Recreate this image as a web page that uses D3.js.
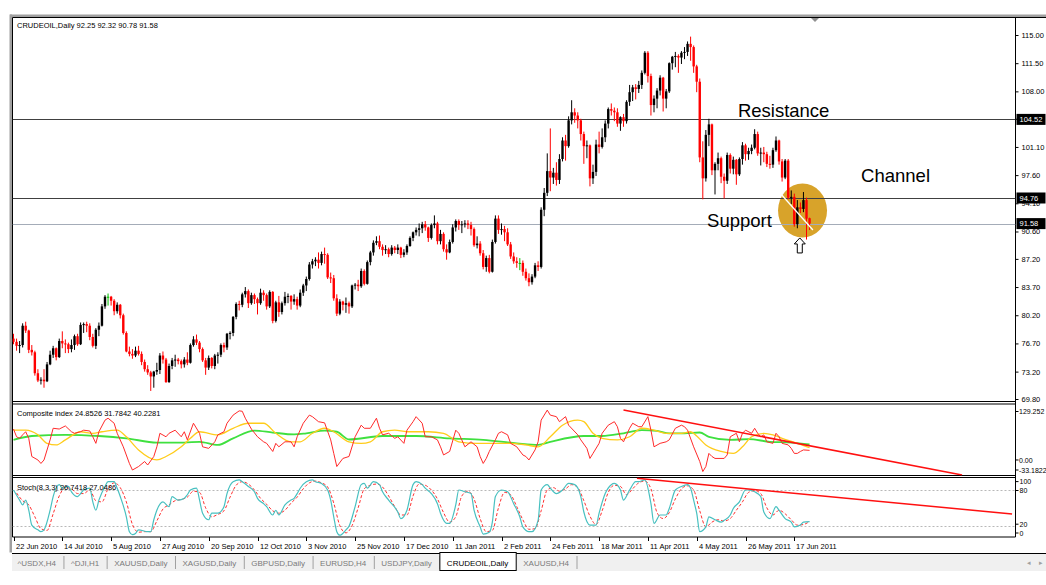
<!DOCTYPE html>
<html>
<head>
<meta charset="utf-8">
<script src="https://cdn.jsdelivr.net/npm/d3@7"></script>
<style>
  body { margin: 0; background: #fff; }
  svg { display: block; font-family: "Liberation Sans", Arial, sans-serif; }
</style>
</head>
<body>
<svg id="chart" width="1046" height="585"></svg>
<script>
// ---- data ----
const symbolTitle = 'CRUDEOIL,Daily  92.25 92.32 90.78 91.58';

// daily bars [open, high, low, close], bar 0 = 22 Jun 2010
const candles = [
  // Jun / Jul 2010
  [77.3,77.9,76.6,76.9],[76.9,77.3,75.8,76.4],[76.4,77.0,75.5,76.5],[76.5,79.2,76.2,78.9],[78.9,79.4,78.0,78.3],
  [78.3,78.4,75.5,75.9],[75.9,76.5,75.2,75.6],[75.6,75.8,72.7,73.0],[73.0,73.5,71.9,72.1],[72.1,72.5,71.6,72.2],
  [72.2,73.5,71.2,72.0],[72.0,74.4,71.9,74.1],[74.1,75.8,74.0,75.3],[75.3,76.4,74.9,76.1],[76.1,76.2,74.6,75.0],
  [75.0,77.3,74.9,77.0],[77.0,78.2,76.1,76.7],[76.7,77.2,75.5,76.6],[76.6,76.8,75.5,76.0],[76.0,77.2,75.6,76.5],
  [76.5,77.8,75.9,77.6],[77.6,77.9,76.4,76.6],[76.6,79.3,76.5,79.0],[79.0,79.3,78.0,79.1],[79.1,79.4,78.1,78.9],
  [78.9,79.2,77.1,77.5],[77.5,77.9,76.2,76.4],[76.4,78.6,76.0,78.4],[78.4,79.3,77.6,78.9],
  // Aug 2010
  [78.9,81.6,78.8,81.3],[81.3,82.7,81.0,82.5],[82.5,82.9,81.4,82.5],[82.5,82.6,81.4,82.0],[82.0,82.2,80.2,80.7],
  [80.7,81.8,80.4,81.5],[81.5,81.6,79.8,80.2],[80.2,80.4,77.8,78.0],[78.0,78.2,75.6,75.7],[75.7,76.3,75.1,75.4],
  [75.4,76.0,74.8,75.2],[75.2,76.3,75.0,75.8],[75.8,76.4,75.2,75.4],[75.4,75.7,74.0,74.4],[74.4,74.7,73.2,73.5],
  [73.5,74.0,72.8,73.1],[73.1,73.3,70.8,72.6],[72.6,73.3,71.2,73.2],[73.2,74.3,72.8,73.4],[73.4,75.5,72.9,75.2],
  [75.2,75.7,74.2,74.7],[74.7,74.9,71.8,71.9],
  // Sep 2010
  [71.9,74.2,71.8,73.9],[73.9,74.9,73.5,74.6],[74.6,75.3,73.8,74.7],[74.7,74.9,74.1,74.5],[74.5,74.7,73.6,74.1],
  [74.1,75.0,73.7,74.7],[74.7,75.6,74.0,74.3],[74.3,76.7,74.2,76.5],[76.5,77.6,76.3,77.2],[77.2,77.8,76.5,76.8],
  [76.8,77.0,75.6,76.0],[76.0,76.2,74.4,74.6],[74.6,74.9,72.8,73.7],[73.7,75.2,73.4,74.9],[74.9,75.0,73.6,73.9],
  [73.9,75.4,73.5,75.2],[75.2,75.6,74.2,75.3],[75.3,76.7,75.0,76.5],[76.5,76.8,75.6,76.2],[76.2,78.0,75.9,77.9],
  [77.9,78.2,77.2,78.0],[78.0,80.1,77.6,80.0],
  // Oct 2010
  [80.0,81.8,79.7,81.6],[81.6,82.0,80.8,81.5],[81.5,83.0,81.2,82.8],[82.8,83.7,82.4,83.2],[83.2,83.4,81.1,81.7],
  [81.7,83.0,81.5,82.7],[82.7,82.9,81.6,82.2],[82.2,82.4,80.3,81.7],[81.7,83.5,81.5,83.0],[83.0,83.3,82.0,82.7],
  [82.7,82.9,80.9,81.3],[81.3,83.3,81.1,83.1],[83.1,83.2,79.2,79.5],[79.5,82.0,79.3,81.8],[81.8,82.6,80.0,80.6],
  [80.6,81.9,80.3,81.7],[81.7,83.1,81.4,82.5],[82.5,82.9,81.7,82.6],[82.6,82.7,80.9,81.9],[81.9,82.8,81.5,82.2],
  [82.2,82.5,80.9,81.4],
  // Nov 2010
  [81.4,83.4,81.2,83.0],[83.0,84.1,82.6,83.9],[83.9,85.0,83.2,84.7],[84.7,86.8,84.5,86.5],[86.5,87.2,86.0,86.9],
  [86.9,87.4,86.3,87.1],[87.1,88.0,86.0,86.7],[86.7,88.1,86.4,87.8],[87.8,88.6,86.6,87.7],[87.7,87.9,84.7,84.9],
  [84.9,85.5,84.2,84.8],[84.8,85.2,82.0,82.3],[82.3,82.8,80.1,80.4],[80.4,82.2,80.2,81.9],[81.9,82.0,80.8,81.5],
  [81.5,82.4,80.5,81.7],[81.7,81.9,80.4,81.3],[81.3,84.0,81.1,83.9],[83.9,84.2,83.4,84.0],[84.0,84.6,83.2,83.8],
  [83.8,86.0,83.6,85.7],[85.7,85.9,83.9,84.1],
  // Dec 2010
  [84.1,87.0,84.0,86.8],[86.8,88.2,86.4,88.0],[88.0,89.5,87.6,89.2],[89.2,90.0,88.9,89.4],[89.4,90.1,88.4,88.7],
  [88.7,89.0,87.6,88.3],[88.3,88.9,87.8,88.4],[88.4,88.6,87.4,87.8],[87.8,88.9,87.6,88.6],[88.6,88.8,87.9,88.3],
  [88.3,89.0,87.8,88.6],[88.6,88.7,87.3,87.7],[87.7,88.4,87.4,88.0],[88.0,89.0,87.7,88.8],[88.8,90.0,88.7,89.8],
  [89.8,90.6,89.4,90.5],[90.5,91.1,90.1,90.8],[90.8,91.6,90.0,91.0],[91.0,91.8,90.4,91.5],[91.5,91.9,90.7,91.1],
  [91.1,91.2,89.3,89.8],[89.8,91.6,89.6,91.4],
  // Jan 2011
  [91.4,92.6,91.0,91.6],[91.6,91.8,89.0,89.4],[89.4,90.8,89.0,90.3],[90.3,90.5,88.1,88.4],[88.4,89.0,87.1,88.0],
  [88.0,89.6,87.9,89.3],[89.3,91.5,89.1,91.1],[91.1,92.1,90.6,91.9],[91.9,92.1,90.8,91.4],[91.4,91.9,90.4,91.5],
  [91.5,92.0,91.1,91.6],[91.6,92.0,90.9,91.4],[91.4,91.8,90.1,90.9],[90.9,91.1,88.7,88.9],[88.9,90.0,88.5,89.1],
  [89.1,89.4,87.6,87.9],[87.9,88.3,85.9,86.2],[86.2,87.6,85.6,87.3],[87.3,87.7,85.4,85.6],[85.6,89.6,85.5,89.3],
  [89.3,92.6,89.1,92.2],
  // Feb 2011
  [92.2,92.6,90.3,90.8],[90.8,91.6,90.2,90.9],[90.9,91.3,89.4,90.5],[90.5,91.0,88.8,89.0],[89.0,89.3,87.2,87.5],
  [87.5,88.0,86.6,86.9],[86.9,87.4,86.1,86.7],[86.7,87.3,85.8,86.7],[86.7,87.0,85.1,85.6],[85.6,86.0,84.5,84.8],
  [84.8,85.4,83.8,84.3],[84.3,85.3,84.0,85.0],[85.0,86.7,84.8,86.4],[86.4,86.9,85.7,86.2],[86.2,93.6,86.0,93.3],
  [93.3,96.0,92.5,95.4],[95.4,100.3,95.0,98.1],[98.1,103.4,95.6,97.3],[97.3,98.5,96.5,97.9],[97.9,99.2,96.3,97.0],
  // Mar 2011
  [97.0,100.2,96.5,99.6],[99.6,102.3,99.3,101.9],[101.9,102.6,99.4,101.2],[101.2,104.9,101.0,104.4],[104.4,106.9,103.9,105.4],
  [105.4,105.9,104.1,105.0],[105.0,105.4,103.4,104.4],[104.4,104.6,101.9,102.7],[102.7,103.0,99.0,101.2],[101.2,101.9,99.7,101.3],
  [101.3,101.4,96.2,97.2],[97.2,98.9,96.5,98.0],[98.0,102.0,97.5,101.4],[101.4,103.0,100.3,101.1],[101.1,103.4,100.9,102.3],
  [102.3,104.4,101.7,104.0],[104.0,106.0,103.4,105.8],[105.8,106.5,105.0,105.6],[105.6,106.0,104.3,105.4],[105.4,105.9,103.6,104.0],
  [104.0,104.9,103.1,104.8],[104.8,105.2,103.6,104.3],[104.3,106.9,104.0,106.7],
  // Apr 2011
  [106.7,108.8,106.2,107.9],[107.9,108.8,106.8,108.5],[108.5,108.9,107.0,108.3],[108.3,109.3,107.8,108.8],[108.8,110.6,108.3,110.3],
  [110.3,113.0,110.1,112.8],[112.8,113.0,109.1,109.9],[109.9,110.2,105.0,106.3],[106.3,107.5,105.4,107.1],[107.1,108.4,105.9,108.1],
  [108.1,110.0,107.5,109.7],[109.7,109.8,105.5,107.1],[107.1,108.3,105.9,108.0],[108.0,111.6,107.8,111.5],[111.5,112.4,110.7,112.3],
  [112.3,112.9,111.0,112.4],[112.4,112.6,110.3,112.2],[112.2,113.0,111.4,112.8],[112.8,113.5,112.0,112.9],[112.9,114.2,112.4,113.9],
  // May 2011
  [113.9,114.8,111.8,113.5],[113.5,113.7,110.3,111.1],[111.1,111.3,107.9,109.2],[109.2,109.6,99.2,99.8],[99.8,101.8,94.6,97.2],
  [97.2,103.2,96.8,102.6],[102.6,104.6,101.2,103.9],[103.9,104.0,97.6,98.2],[98.2,99.2,95.2,99.0],[99.0,100.4,98.2,99.7],
  [99.7,99.9,96.6,97.4],[97.4,97.8,94.7,96.9],[96.9,100.4,96.5,100.1],[100.1,100.3,97.8,98.4],[98.4,99.9,97.7,99.5],
  [99.5,99.6,96.4,97.7],[97.7,99.8,97.5,99.6],[99.6,101.7,98.9,101.3],[101.3,101.5,99.4,100.2],[100.2,101.0,99.5,100.6],
  [100.6,101.4,100.2,101.0],[101.0,103.3,100.8,102.7],
  // Jun 2011
  [102.7,103.0,100.0,100.3],[100.3,101.0,98.8,100.4],[100.4,101.1,99.2,100.2],[100.2,100.5,98.6,99.0],[99.0,100.0,98.4,98.9],
  [98.9,101.0,98.5,100.7],[100.7,102.4,100.5,101.9],[101.9,102.0,98.9,99.3],[99.3,99.6,96.8,97.3],[97.3,99.6,97.1,99.4],
  [99.4,99.6,94.6,94.8],[94.8,95.7,94.0,94.9],[94.9,95.3,91.2,91.5],[91.5,94.5,91.0,93.6],[93.6,94.2,92.9,93.4],
  [93.4,95.5,93.0,94.5],[94.5,94.8,89.6,92.2],[92.25,92.32,90.78,91.58]
];

const priceTicks = [115.00, 111.50, 108.00, 104.60, 101.10, 97.60, 94.10, 90.60, 87.20, 83.70, 80.20, 76.70, 73.20, 69.80];
const levelPrices = [104.52, 94.76];   // resistance / support lines
const bidPrice = 91.58;

const dateTickBars = [0, 16, 32, 48, 64, 80, 96, 112, 128, 144, 160, 176, 192, 208, 224, 240, 256];
const dateTickLabels = ['22 Jun 2010', '14 Jul 2010', '5 Aug 2010', '27 Aug 2010', '20 Sep 2010', '12 Oct 2010',
  '3 Nov 2010', '25 Nov 2010', '17 Dec 2010', '11 Jan 2011', '2 Feb 2011', '24 Feb 2011', '18 Mar 2011',
  '11 Apr 2011', '4 May 2011', '26 May 2011', '17 Jun 2011'];

// composite index panel: [bar, value]
const compositeLine = [[0,80],[1,60],[2,56],[3,65],[4,73],[5,56],[6,9],[8,0],[9,-9],[10,0],[12,52],[13,82],[15,80],[17,88],
  [19,73],[20,69],[22,73],[23,77],[25,75],[26,60],[27,43],[28,73],[30,103],[31,108],[33,95],[34,69],[36,34],[38,-9],[39,-26],
  [41,-17],[43,-4],[44,-13],[46,9],[47,34],[48,69],[50,60],[51,69],[53,77],[55,60],[56,73],[57,52],[59,95],[61,69],[62,34],
  [64,30],[66,47],[67,65],[69,73],[70,95],[72,116],[74,127],[75,126],[76,108],[78,80],[80,60],[82,47],[83,43],[85,22],[86,43],
  [87,34],[89,47],[91,47],[92,34],[93,60],[95,95],[97,116],[98,112],[100,99],[102,96],[104,52],[105,17],[106,-17],[108,4],
  [110,9],[112,60],[114,90],[115,82],[117,82],[119,108],[120,82],[121,65],[123,69],[125,56],[126,60],[128,43],[129,77],[131,99],
  [132,112],[134,95],[135,60],[137,60],[139,52],[140,34],[141,13],[143,22],[145,77],[146,69],[148,34],[150,47],[152,34],[153,9],
  [154,-9],[155,4],[156,22],[158,52],[159,69],[160,73],[162,65],[163,43],[165,34],[167,13],[168,9],[169,0],[171,26],[172,47],
  [173,103],[175,129],[176,116],[178,112],[179,99],[181,112],[182,90],[185,65],[186,52],[188,30],[189,4],[190,17],[192,43],
  [193,69],[195,90],[197,99],[198,86],[199,56],[200,47],[202,82],[203,95],[205,86],[206,86],[208,112],[209,77],[210,34],[212,43],
  [214,47],[215,52],[217,82],[219,90],[220,86],[221,77],[223,34],[225,-4],[226,-30],[227,-17],[228,17],[229,9],[230,4],[233,4],
  [234,13],[235,60],[237,69],[238,47],[239,69],[240,77],[242,69],[243,82],[244,69],[245,60],[246,65],[247,47],[249,43],[250,69],
  [251,60],[252,43],[254,39],[255,30],[256,17],[257,17],[258,22],[259,26],[261,24.85]];
const fastLine = [[0,77],[4,77],[8,65],[11,43],[14,39],[17,52],[22,73],[26,69],[29,73],[34,77],[37,60],[41,26],[47,0],[50,9],
  [55,34],[58,56],[61,73],[67,65],[72,82],[77,95],[82,95],[86,69],[91,47],[94,47],[98,69],[102,82],[105,73],[110,47],[114,43],
  [117,47],[121,73],[125,77],[129,73],[132,73],[136,73],[141,69],[146,47],[152,43],[157,43],[163,43],[168,39],[172,34],[176,60],
  [180,90],[185,103],[187,99],[190,69],[193,56],[198,52],[202,60],[206,82],[210,77],[214,69],[219,69],[222,73],[224,62],[227,39],
  [232,22],[236,17],[239,34],[242,60],[246,69],[249,65],[252,56],[257,43],[261,31.78]];
const slowLine = [[0,52],[6,62],[17,65],[28,62],[37,56],[47,45],[56,45],[61,47],[67,39],[72,56],[79,76],[85,71],[92,66],[96,69],
  [102,76],[106,73],[110,53],[121,62],[132,62],[143,56],[154,52],[165,43],[172,39],[176,47],[187,62],[193,62],[200,69],[206,77],
  [211,75],[215,69],[220,69],[225,71],[228,60],[235,52],[241,54],[248,47],[255,45],[261,40.23]];

// stochastic panel: [bar, value]
const stochMain = [[0,80],[2,63],[3,55],[4,63],[5,46],[6,21],[8,13],[9,10],[10,13],[12,46],[13,69],[15,89],[16,83],[18,86],
  [19,77],[21,69],[22,74],[23,80],[25,83],[26,60],[27,46],[28,63],[30,86],[31,94],[33,94],[34,83],[35,69],[37,35],[38,10],[39,5],
  [40,7],[41,13],[44,10],[45,10],[46,30],[47,46],[49,60],[51,52],[52,69],[54,63],[56,66],[57,72],[58,80],[60,83],[61,63],[62,41],
  [64,30],[65,41],[67,41],[69,52],[70,74],[72,94],[74,97],[75,94],[77,86],[79,77],[80,66],[82,57],[83,52],[85,38],[86,46],[87,38],
  [89,55],[91,63],[92,66],[93,74],[94,83],[96,94],[98,97],[99,94],[101,91],[103,80],[104,63],[105,35],[106,10],[107,4],[109,13],
  [110,19],[112,52],[114,89],[115,91],[116,83],[118,94],[120,89],[121,77],[123,63],[126,43],[127,32],[129,46],[131,89],[132,94],
  [134,89],[135,83],[137,74],[139,57],[140,41],[142,24],[143,24],[145,55],[146,80],[148,77],[150,74],[151,46],[153,18],[154,6],
  [156,9],[157,26],[158,69],[160,80],[162,77],[164,57],[166,35],[167,18],[169,10],[170,10],[172,29],[173,80],[175,89],[176,83],
  [178,74],[180,80],[182,91],[184,89],[186,69],[187,43],[189,21],[191,21],[192,41],[194,74],[196,89],[197,91],[199,80],[200,63],
  [202,80],[204,94],[205,94],[207,97],[209,57],[210,24],[212,38],[214,38],[215,49],[217,80],[219,86],[221,89],[222,83],[223,63],
  [224,41],[225,10],[227,18],[228,35],[230,30],[232,26],[233,29],[235,38],[236,49],[238,60],[240,80],[241,80],[243,77],[245,69],
  [246,43],[248,32],[250,52],[251,46],[253,32],[255,26],[256,18],[258,21],[259,26],[261,26.74]];
const stochSignal = [[1,75],[3,62],[5,55],[7,35],[9,15],[11,12],[13,40],[15,70],[17,84],[19,82],[21,74],[23,74],[25,80],[27,62],
  [29,60],[31,82],[33,92],[35,84],[37,60],[39,22],[41,9],[43,10],[45,10],[47,28],[49,48],[51,55],[53,62],[55,64],[57,68],[59,78],
  [61,76],[63,50],[65,35],[67,39],[69,45],[71,68],[73,88],[75,94],[77,90],[79,80],[81,66],[83,56],[85,45],[87,41],[89,46],[91,58],
  [93,68],[95,82],[97,92],[99,95],[101,92],[103,85],[105,58],[107,20],[109,8],[111,20],[113,50],[115,82],[117,88],[119,90],
  [121,85],[123,70],[125,52],[127,38],[129,38],[131,70],[133,90],[135,88],[137,80],[139,65],[141,42],[143,26],[145,35],[147,70],
  [149,78],[151,65],[153,32],[155,10],[157,12],[159,50],[161,76],[163,72],[165,52],[167,30],[169,14],[171,15],[173,45],[175,80],
  [177,84],[179,78],[181,82],[183,89],[185,84],[187,62],[189,36],[191,22],[193,45],[195,76],[197,88],[199,86],[201,72],[203,82],
  [205,92],[207,95],[209,82],[211,42],[213,32],[215,42],[217,65],[219,82],[221,87],[223,80],[225,45],[227,18],[229,26],[231,30],
  [233,28],[235,32],[237,46],[239,60],[241,76],[243,79],[245,74],[247,50],[249,38],[251,46],[253,40],[255,30],[257,21],[259,22],
  [261,27.05]];

// hand-drawn trend lines on the indicators: [bar, value] end points
const compTrend = [[200, 129], [311, -38.8]];
const stochTrend = [[204.4, 99.6], [327.4, 39.7]];

const tabNames = ['^USDX,H4', '^DJI,H1', 'XAUUSD,Daily', 'XAGUSD,Daily', 'GBPUSD,Daily', 'EURUSD,H4', 'USDJPY,Daily', 'CRUDEOIL,Daily', 'XAUUSD,H4'];
const activeTab = 'CRUDEOIL,Daily';

// ---- layout ----
const svg = d3.select('#chart');
const left = 12.5, right = 1015.5;
const mainTop = 17.5, mainBottom = 401.5;
const compTop = 404, compBottom = 475.5;
const stochTop = 477.5, stochBottom = 537;
const small = '7.5px';

const x = d3.scaleLinear().domain([0, 100]).range([13.5, 13.5 + 305]);
const yPrice = d3.scaleLinear().domain([69.8, 115]).range([399, 35]);
const yComp = d3.scaleLinear().domain([-33.1822, 129.252]).range([472.8, 410]);
const yStoch = d3.scaleLinear().domain([0, 100]).range([537.6, 478.1]);

const defs = svg.append('defs');
[['clipMain', mainTop, mainBottom], ['clipComp', compTop, compBottom], ['clipStoch', stochTop, stochBottom]].forEach(c => {
  defs.append('clipPath').attr('id', c[0])
  .append('rect').attr('x', left).attr('y', c[1]).attr('width', right - left).attr('height', c[2] - c[1]);
});

// window frame
svg.append('rect').attr('x', 10).attr('y', 14.5).attr('width', 1036).attr('height', 2.5).attr('fill', '#a0a0a0');
svg.append('rect').attr('x', 9.5).attr('y', 14.5).attr('width', 2.5).attr('height', 538).attr('fill', '#a0a0a0');

// panel borders
svg.append('line').attr('x1', left).attr('x2', 1046).attr('y1', mainTop).attr('y2', mainTop).attr('stroke', '#000');
svg.append('line').attr('x1', left).attr('x2', left).attr('y1', mainTop).attr('y2', stochBottom).attr('stroke', '#000');
[mainBottom, compTop, compBottom, stochTop, stochBottom].forEach(yy => {
  svg.append('line').attr('x1', left).attr('x2', right).attr('y1', yy).attr('y2', yy).attr('stroke', '#000');
});
svg.append('line').attr('x1', right).attr('x2', right).attr('y1', mainTop).attr('y2', stochBottom).attr('stroke', '#000');

// chart shift marker
svg.append('path').attr('d', 'M811,18 L819,18 L815,22 Z').attr('fill', '#909090');

const gMain = svg.append('g').attr('clip-path', 'url(#clipMain)');

// highlighted zone behind the last bars
gMain.append('ellipse')
.attr('cx', x(258.7)).attr('cy', yPrice(93.2))
.attr('rx', 24.5).attr('ry', 27)
.attr('fill', '#d8a32a');

// level lines
levelPrices.forEach(p => {
  gMain.append('line').attr('x1', left).attr('x2', right)
  .attr('y1', Math.round(yPrice(p)) + 0.5).attr('y2', Math.round(yPrice(p)) + 0.5)
  .attr('stroke', '#404040');
});
gMain.append('line').attr('x1', left).attr('x2', right)
.attr('y1', Math.round(yPrice(bidPrice)) + 0.5).attr('y2', Math.round(yPrice(bidPrice)) + 0.5)
.attr('stroke', '#a4acb8');

// candles
const bars = candles.map((c, i) => ({i: i, o: c[0], h: c[1], l: c[2], c: c[3]}));
const barColor = d => d.c > d.o ? '#000' : (d.c < d.o ? '#ff0000' : '#00c000');

gMain.selectAll('line.wick')
.data(bars)
.enter()
.append('line')
.attr('x1', d => x(d.i)).attr('x2', d => x(d.i))
.attr('y1', d => yPrice(d.h)).attr('y2', d => yPrice(d.l))
.attr('stroke', barColor)
.attr('stroke-width', 1);

gMain.selectAll('rect.body')
.data(bars)
.enter()
.append('rect')
.attr('x', d => x(d.i) - 1.2)
.attr('width', 2.4)
.attr('y', d => yPrice(Math.max(d.o, d.c)))
.attr('height', d => Math.max(1, Math.abs(yPrice(d.o) - yPrice(d.c))))
.attr('fill', barColor);

// white trend line inside the circle
gMain.append('line')
.attr('x1', x(251.9)).attr('y1', yPrice(95.13))
.attr('x2', x(262.1)).attr('y2', yPrice(90.79))
.attr('stroke', '#fff').attr('stroke-width', 1.3);

// up arrow under the low
const ax = x(257.8), ay = yPrice(89.8);
gMain.append('path')
.attr('d', `M${ax},${ay} L${ax + 5.5},${ay + 6} L${ax + 2.5},${ay + 6} L${ax + 2.5},${ay + 15} L${ax - 2.5},${ay + 15} L${ax - 2.5},${ay + 6} L${ax - 5.5},${ay + 6} Z`)
.attr('fill', '#fff').attr('stroke', '#000').attr('stroke-width', 1);

// annotation texts
const notes = [
  {text: 'Resistance', bar: 237.5, price: 104.52, dy: -2},
  {text: 'Channel', bar: 277.9, price: 96.78, dy: 0},
  {text: 'Support', bar: 227.4, price: 91.15, dy: 0}
];
notes.forEach(n => {
  svg.append('text')
  .attr('x', x(n.bar)).attr('y', yPrice(n.price) + n.dy)
  .style('font-size', '18.5px')
  .style('fill', '#000')
  .text(n.text);
});

// header
svg.append('text').attr('x', 17).attr('y', 28).style('font-size', small).style('fill', '#000').text(symbolTitle);

// price axis
const priceAxis = svg.append('g')
.attr('transform', `translate(${right}, 0)`)
.call(d3.axisRight(yPrice).tickValues(priceTicks).tickFormat(d3.format('.2f')).tickSize(3).tickPadding(3));
priceAxis.select('.domain').remove();
priceAxis.selectAll('text').style('font-size', small).style('font-family', '"Liberation Sans", Arial, sans-serif');

// black price boxes
[104.52, 94.76, 91.58].forEach(p => {
  const yy = yPrice(p);
  svg.append('rect').attr('x', right + 1).attr('y', yy - 5.5).attr('width', 29).attr('height', 11).attr('fill', '#000');
  svg.append('text').attr('x', right + 4).attr('y', yy + 2.7)
  .style('font-size', small).style('fill', '#fff').text(p.toFixed(2));
});

// ---- composite index panel ----
const gComp = svg.append('g').attr('clip-path', 'url(#clipComp)');
const lineComp = d3.line().x(d => x(d[0])).y(d => yComp(d[1]));
const lineCompSmooth = d3.line().x(d => x(d[0])).y(d => yComp(d[1])).curve(d3.curveMonotoneX);

gComp.append('path').datum(slowLine).attr('d', lineCompSmooth)
.attr('fill', 'none').attr('stroke', '#3fe03f').attr('stroke-width', 1.8);
gComp.append('path').datum(fastLine).attr('d', lineCompSmooth)
.attr('fill', 'none').attr('stroke', '#ffcc1a').attr('stroke-width', 1.3);
gComp.append('path').datum(compositeLine).attr('d', lineComp)
.attr('fill', 'none').attr('stroke', '#ff2a2a').attr('stroke-width', 1);
gComp.append('path').datum(compTrend).attr('d', lineComp)
.attr('fill', 'none').attr('stroke', '#ff1010').attr('stroke-width', 1.5);

svg.append('text').attr('x', 17).attr('y', 415.5).style('font-size', small).style('fill', '#000')
.text('Composite index 24.8526 31.7842 40.2281');

const compLabels = [[129.252, '129.252', 1.5], [0, '0.00', 0], [-33.1822, '-33.1822', -2.8]];
compLabels.forEach(l => {
  const yy = yComp(l[0]) + l[2];
  svg.append('line').attr('x1', right).attr('x2', right + 3).attr('y1', yy).attr('y2', yy).attr('stroke', '#000');
  svg.append('text').attr('x', right + 3.5).attr('y', yy + 2.7).style('font-size', '7px').text(l[1]);
});

// ---- stochastic panel ----
const gSto = svg.append('g').attr('clip-path', 'url(#clipStoch)');
const lineSto = d3.line().x(d => x(d[0])).y(d => yStoch(d[1])).curve(d3.curveMonotoneX);
const lineStoStraight = d3.line().x(d => x(d[0])).y(d => yStoch(d[1]));

[80, 20].forEach(v => {
  gSto.append('line').attr('x1', left).attr('x2', right)
  .attr('y1', Math.round(yStoch(v)) + 0.5).attr('y2', Math.round(yStoch(v)) + 0.5)
  .attr('stroke', '#b8b8b8').attr('stroke-dasharray', '2,2');
});
gSto.append('path').datum(stochSignal).attr('d', lineSto)
.attr('fill', 'none').attr('stroke', '#ff3030').attr('stroke-width', 1).attr('stroke-dasharray', '3,2');
gSto.append('path').datum(stochMain).attr('d', lineSto)
.attr('fill', 'none').attr('stroke', '#48c0c0').attr('stroke-width', 1.2);
gSto.append('path').datum(stochTrend).attr('d', lineStoStraight)
.attr('fill', 'none').attr('stroke', '#ff1010').attr('stroke-width', 1.5);

svg.append('text').attr('x', 17).attr('y', 489.5).style('font-size', small).style('fill', '#000')
.text('Stoch(8,3,3) 26.7418 27.0486');

const stochLabels = [[100, '100', 3.5], [80, '80', 0.5], [20, '20', -1.5], [0, '0', -4.6]];
stochLabels.forEach(l => {
  const yy = yStoch(l[0]) + l[2];
  svg.append('line').attr('x1', right).attr('x2', right + 3).attr('y1', yy).attr('y2', yy).attr('stroke', '#000');
  svg.append('text').attr('x', right + 4).attr('y', yy + 2.7).style('font-size', '7px').text(l[1]);
});

// ---- date axis ----
dateTickBars.forEach((b, k) => {
  const xx = Math.round(x(b)) + 0.5;
  svg.append('line').attr('x1', xx).attr('x2', xx).attr('y1', stochBottom).attr('y2', stochBottom + 4).attr('stroke', '#000');
  svg.append('text').attr('x', xx + 1.5).attr('y', 549).style('font-size', small).style('fill', '#000').text(dateTickLabels[k]);
});

// ---- symbol tabs ----
const tabsY = 553, tabsH = 18, pad = 7.5;
svg.append('rect').attr('x', 12).attr('y', tabsY).attr('width', 1034).attr('height', tabsH).attr('fill', '#f0f0f0');
svg.append('line').attr('x1', 12).attr('x2', 1046).attr('y1', tabsY + 0.5).attr('y2', tabsY + 0.5).attr('stroke', '#000');
const gTabs = svg.append('g');
let tx = 10;
tabNames.forEach(name => {
  const g = gTabs.append('g');
  const t = g.append('text').attr('x', tx + pad).attr('y', tabsY + 12.5)
  .style('font-size', '8px')
  .style('fill', name === activeTab ? '#000' : '#7a7a7a')
  .text(name);
  const w = t.node().getComputedTextLength();
  if (name === activeTab) {
    g.insert('rect', 'text')
    .attr('x', tx + 0.5).attr('y', tabsY - 0.5).attr('width', w + 2 * pad).attr('height', tabsH)
    .attr('fill', '#fff').attr('stroke', '#000');
  } else {
    g.append('line').attr('x1', tx + w + 2 * pad + 0.5).attr('x2', tx + w + 2 * pad + 0.5)
    .attr('y1', tabsY + 3).attr('y2', tabsY + tabsH - 2).attr('stroke', '#a0a0a0');
  }
  tx += w + 2 * pad;
});
svg.append('text').attr('x', 1027).attr('y', tabsY + 12).style('font-size', '7px').style('fill', '#a0a0a0').text('\u25C2');
svg.append('text').attr('x', 1039).attr('y', tabsY + 12).style('font-size', '7px').style('fill', '#a0a0a0').text('\u25B8');
</script>
</body>
</html>
